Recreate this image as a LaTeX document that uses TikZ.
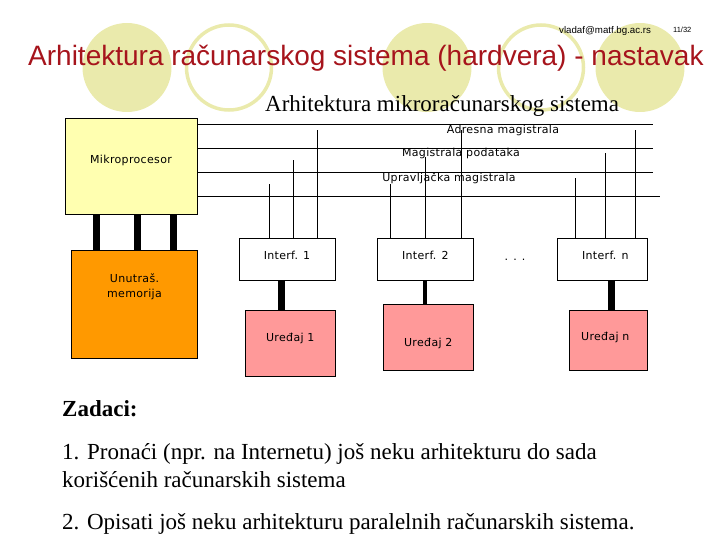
\documentclass[tikz,border=0pt]{standalone}
\usepackage{fontspec}
\setmainfont{Liberation Serif}
\newfontfamily\titlefont{Liberation Sans}
\newfontfamily\boxfont[LetterSpace=3]{DejaVu Sans}
\usetikzlibrary{positioning}
\definecolor{titlered}{RGB}{166,20,28}
\definecolor{bubble}{RGB}{234,234,172}
\definecolor{cpuyellow}{RGB}{255,255,176}
\definecolor{memorange}{RGB}{255,153,0}
\definecolor{devpink}{RGB}{255,153,153}
\tikzset{
    boxtext/.style={font=\boxfont\fontsize{11}{15}\selectfont, align=center},
    unit/.style={draw, line width=0.9pt, inner sep=0pt},
    cpubox/.style={unit, fill=cpuyellow},
    membox/.style={unit, fill=memorange},
    ifbox/.style={unit, fill=white, minimum height=42pt},
    devbox/.style={unit, fill=devpink},
    bus/.style={line width=0.9pt},
    tap/.style={line width=0.9pt},
    link/.style={line width=7pt},
    slidetext/.style={anchor=base west, inner sep=0pt},
}
\begin{document}
\begin{tikzpicture}[x=1pt, y=-1pt]
    \useasboundingbox (0,0) rectangle (720,540);

    % decoration
    \foreach \cx in {127,427,640}
        \fill[bubble] (\cx,67.5) circle (44.5);
    \foreach \cx in {229,541}
        \draw[bubble, line width=3.5pt] (\cx,67.5) circle (42.5);

    \node[slidetext, font=\titlefont\fontsize{9.7}{12}\selectfont] (mail) at (559,33.5) {vladaf@matf.bg.ac.rs};
    \node[slidetext, font=\titlefont\fontsize{7.5}{9}\selectfont] (page) at (673,32.5) {11/32};
    \node[slidetext, font=\titlefont\fontsize{28}{32}\selectfont, text=titlered] (title) at (28,66)
        {Arhitektura računarskog sistema (hardvera) - nastavak};
    \node[slidetext, font=\fontsize{23}{27}\selectfont] (subtitle) at (265,111.5)
        {Arhitektura mikroračunarskog sistema};

    % processor and memory
    \node[cpubox, minimum width=132pt, minimum height=96pt,
          label={[boxtext, yshift=6pt]center:Mikroprocesor}] (cpu) at (131,166) {};
    \node[membox, minimum width=126pt, minimum height=108pt,
          label={[boxtext, yshift=17pt]center:Unutraš.\\memorija}] (mem) at (134.5,304) {};
    \foreach \dx in {-35,6,42}
        \draw[link] ([xshift=\dx pt]cpu.south) -- ([xshift=\dx pt]cpu.south |- mem.north);

    % buses
    \coordinate (addr) at (653,124);
    \coordinate (data) at (653,148);
    \coordinate (ctrl) at (653,172);
    \coordinate (low)  at (660,196);
    \foreach \b in {addr,data,ctrl,low}
        \draw[bus] (cpu.east |- \b) -- (\b);
    \node[boxtext] (addrlabel) at (503,130) {Adresna magistrala};
    \node[boxtext] (datalabel) at (461,153.5) {Magistrala podataka};
    \node[boxtext] (ctrllabel) at (449,178) {Upravljačka magistrala};

    % interfaces
    \node[ifbox, minimum width=96pt, label={[boxtext, yshift=4pt]center:Interf. 1}] (if1) at (287,259) {};
    \node[ifbox, minimum width=96pt, label={[boxtext, yshift=4pt]center:Interf. 2}] (if2) at (425.3,259) {};
    \node[ifbox, minimum width=90pt, label={[boxtext, yshift=4pt, xshift=3pt]center:Interf. n}] (ifn) at (602.3,259) {};
    \node[boxtext] (dots) at (515,260) {. . .};

    \foreach \x/\top in {269/184,293/160,317/130}
        \draw[tap] (if1.north -| \x,0) -- (\x,\top);
    \foreach \x/\top in {390/184,425.3/157,461.3/130}
        \draw[tap] (if2.north -| \x,0) -- (\x,\top);
    \foreach \x/\top in {575.3/178,605.3/153,635.3/130}
        \draw[tap] (ifn.north -| \x,0) -- (\x,\top);

    % devices
    \node[devbox, minimum width=90pt, minimum height=66pt,
          label={[boxtext, yshift=5pt]center:Uređaj 1}] (dev1) at (290.3,343) {};
    \node[devbox, minimum width=90pt, minimum height=66pt,
          label={[boxtext, yshift=-6pt]center:Uređaj 2}] (dev2) at (428.3,337) {};
    \node[devbox, minimum width=78pt, minimum height=60pt,
          label={[boxtext, yshift=3pt, xshift=-3pt]center:Uređaj n}] (devn) at (608.3,340) {};
    \draw[link] ([xshift=-6pt]if1.south) -- ([xshift=-6pt]if1.south |- dev1.north);
    \draw[link, line width=4pt] (if2.south) -- (if2.south |- dev2.north);
    \draw[link] ([xshift=9.4pt]ifn.south) -- ([xshift=9.4pt]ifn.south |- devn.north);

    % tasks
    \node[slidetext, font=\bfseries\fontsize{23}{27}\selectfont] (tasks) at (62,416) {Zadaci:};
    \node[slidetext, font=\fontsize{23}{27}\selectfont] (task1) at (62,459)
        {1. Pronaći (npr. na Internetu) još neku arhitekturu do sada};
    \node[slidetext, font=\fontsize{23}{27}\selectfont] (task1b) at (62,487)
        {korišćenih računarskih sistema};
    \node[slidetext, font=\fontsize{23}{27}\selectfont] (task2) at (62,529)
        {2. Opisati još neku arhitekturu paralelnih računarskih sistema.};
\end{tikzpicture}
\end{document}
